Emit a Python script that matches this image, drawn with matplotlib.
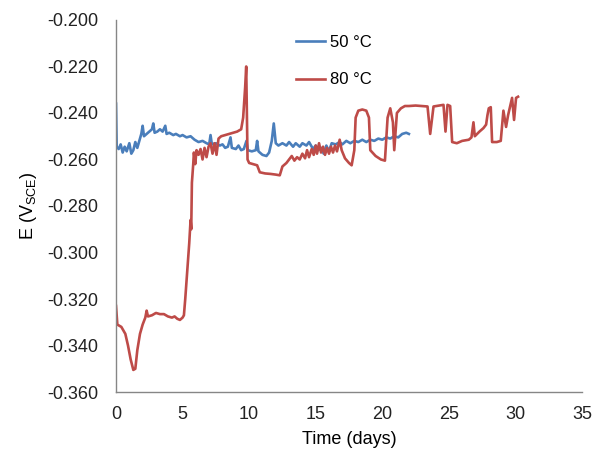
import numpy as np
import matplotlib.pyplot as plt

plt.rcParams['font.family'] = ['Liberation Sans', 'DejaVu Sans']

# open circuit potential, 50 C run
t50 = [0.0, 0.05, 0.2, 0.35, 0.5, 0.65, 0.8, 1.0, 1.15, 1.3, 1.45, 1.6, 1.75, 1.9,
       2.0, 2.1, 2.3, 2.5, 2.7, 2.8, 2.9, 3.1, 3.3, 3.5, 3.7, 3.8, 4.0, 4.3, 4.5,
       4.8, 5.0, 5.3, 5.6, 5.9, 6.2, 6.5, 6.8, 7.0, 7.1, 7.2, 7.5, 7.8, 8.0, 8.2,
       8.4, 8.6, 8.7, 9.0, 9.2, 9.4, 9.6, 9.8, 9.9, 10.2, 10.5, 10.6, 10.7, 11.0,
       11.3, 11.5, 11.7, 11.85, 12.0, 12.2, 12.5, 12.8, 13.0, 13.3, 13.5, 13.8,
       14.0, 14.3, 14.5, 14.8, 15.0, 15.2, 15.4, 15.6, 15.8, 16.0, 16.2, 16.5,
       16.8, 17.0, 17.3, 17.6, 17.9, 18.2, 18.5, 18.8, 19.1, 19.4, 19.7, 20.0,
       20.3, 20.6, 20.9, 21.2, 21.5, 21.8, 22.0]
e50 = [-0.2360, -0.2545, -0.2555, -0.2535, -0.2570, -0.2545, -0.2565, -0.2530,
       -0.2575, -0.2560, -0.2525, -0.2550, -0.2520, -0.2490, -0.2455, -0.2500,
       -0.2490, -0.2480, -0.2470, -0.2445, -0.2485, -0.2480, -0.2470, -0.2480,
       -0.2455, -0.2490, -0.2485, -0.2495, -0.2490, -0.2500, -0.2495, -0.2505,
       -0.2500, -0.2515, -0.2525, -0.2520, -0.2530, -0.2535, -0.2495, -0.2535,
       -0.2530, -0.2540, -0.2535, -0.2550, -0.2545, -0.2505, -0.2550, -0.2555,
       -0.2540, -0.2560, -0.2555, -0.2520, -0.2560, -0.2565, -0.2560, -0.2520,
       -0.2565, -0.2580, -0.2585, -0.2570, -0.2520, -0.2445, -0.2530, -0.2540,
       -0.2530, -0.2540, -0.2525, -0.2545, -0.2530, -0.2545, -0.2530, -0.2540,
       -0.2525, -0.2555, -0.2540, -0.2560, -0.2550, -0.2575, -0.2540, -0.2565,
       -0.2530, -0.2535, -0.2525, -0.2535, -0.2520, -0.2530, -0.2520, -0.2525,
       -0.2515, -0.2525, -0.2515, -0.2520, -0.2510, -0.2515, -0.2505, -0.2510,
       -0.2500, -0.2505, -0.2490, -0.2485, -0.2490]

# open circuit potential, 80 C run
t80 = [0.0, 0.1, 0.4, 0.7, 0.9, 1.1, 1.3, 1.45, 1.6, 1.8, 2.0, 2.2, 2.3, 2.4, 2.7,
       3.0, 3.3, 3.6, 3.9, 4.2, 4.4, 4.6, 4.8, 5.0, 5.1, 5.2, 5.35, 5.5, 5.6,
       5.65, 5.7, 5.8, 5.85, 5.95, 6.05, 6.2, 6.35, 6.5, 6.65, 6.8, 6.95, 7.1,
       7.25, 7.4, 7.55, 7.7, 7.9, 8.2, 8.5, 8.8, 9.1, 9.4, 9.55, 9.7, 9.78, 9.88,
       10.0, 10.3, 10.6, 10.8, 11.2, 11.6, 12.0, 12.3, 12.5, 12.8, 13.0, 13.2,
       13.4, 13.6, 13.8, 14.0, 14.2, 14.35, 14.5, 14.7, 14.85, 15.0, 15.1, 15.25,
       15.4, 15.55, 15.7, 15.85, 16.0, 16.15, 16.3, 16.45, 16.6, 16.8, 16.95,
       17.2, 17.5, 17.7, 17.9, 18.0, 18.2, 18.5, 18.8, 19.0, 19.1, 19.5, 19.9,
       20.2, 20.4, 20.6, 20.8, 20.9, 21.1, 21.4, 21.7, 22.0, 22.5, 23.0, 23.4,
       23.6, 23.85, 24.3, 24.6, 24.75, 24.9, 25.1, 25.25, 25.6, 26.0, 26.5, 26.7,
       26.85, 26.95, 27.3, 27.6, 27.8, 27.9, 28.0, 28.15, 28.25, 28.6, 28.9,
       29.1, 29.3, 29.45, 29.75, 29.9, 30.05, 30.2]
e80 = [-0.3230, -0.3310, -0.3320, -0.3350, -0.3400, -0.3460, -0.3505, -0.3500,
       -0.3420, -0.3350, -0.3310, -0.3280, -0.3250, -0.3275, -0.3270, -0.3260,
       -0.3265, -0.3265, -0.3275, -0.3280, -0.3275, -0.3285, -0.3290, -0.3280,
       -0.3270, -0.3200, -0.3080, -0.2960, -0.2860, -0.2900, -0.2700, -0.2620,
       -0.2570, -0.2620, -0.2560, -0.2580, -0.2555, -0.2600, -0.2550, -0.2590,
       -0.2545, -0.2530, -0.2575, -0.2530, -0.2580, -0.2510, -0.2500, -0.2495,
       -0.2490, -0.2485, -0.2480, -0.2470, -0.2420, -0.2290, -0.2200, -0.2600,
       -0.2615, -0.2620, -0.2625, -0.2655, -0.2660, -0.2662, -0.2665, -0.2668,
       -0.2630, -0.2615, -0.2600, -0.2585, -0.2605, -0.2590, -0.2600, -0.2575,
       -0.2595, -0.2560, -0.2590, -0.2555, -0.2580, -0.2540, -0.2575, -0.2530,
       -0.2570, -0.2545, -0.2580, -0.2550, -0.2575, -0.2545, -0.2570, -0.2540,
       -0.2565, -0.2515, -0.2560, -0.2595, -0.2615, -0.2625, -0.2560, -0.2420,
       -0.2390, -0.2385, -0.2390, -0.2420, -0.2560, -0.2585, -0.2600, -0.2605,
       -0.2420, -0.2380, -0.2440, -0.2560, -0.2400, -0.2380, -0.2370, -0.2370,
       -0.2368, -0.2370, -0.2372, -0.2490, -0.2372, -0.2368, -0.2365, -0.2480,
       -0.2365, -0.2370, -0.2525, -0.2530, -0.2520, -0.2515, -0.2505, -0.2440,
       -0.2500, -0.2480, -0.2465, -0.2450, -0.2410, -0.2380, -0.2375, -0.2525,
       -0.2525, -0.2520, -0.2390, -0.2460, -0.2410, -0.2335, -0.2430, -0.2335,
       -0.2330]

fig = plt.figure(figsize=(6.03, 4.51), dpi=100)
ax = fig.add_axes([0.1924, 0.1308, 0.7727, 0.8249])

ax.plot(t50, e50, color='#4a7ebb', lw=1.9, label='50 °C')
ax.plot(t80, e80, color='#be4b48', lw=1.9, label='80 °C')

ax.set_xlim(0, 35)
ax.set_ylim(-0.360, -0.200)
ax.set_xticks(np.arange(0, 36, 5))
ax.set_yticks(np.arange(-0.360, -0.199, 0.020))
ax.yaxis.set_major_formatter(plt.FuncFormatter(lambda v, p: '%.3f' % v))
ax.tick_params(length=0, labelsize=13, colors='#222222')
ax.tick_params(axis='x', pad=10)
ax.tick_params(axis='y', pad=13)

for s in ['top', 'right']:
    ax.spines[s].set_visible(False)
for s in ['left', 'bottom']:
    ax.spines[s].set_color('#868686')
    ax.spines[s].set_linewidth(1.0)

ax.set_xlabel('Time (days)', fontsize=13, labelpad=6)
ax.set_ylabel('E (V$_\\mathregular{SCE}$)', fontsize=13, labelpad=6)

ax.legend(loc='upper left', bbox_to_anchor=(0.355, 1.0), frameon=False,
          fontsize=12, handlelength=1.7, handletextpad=0.3, labelspacing=1.35)

fig.savefig('out.png', dpi=100)
